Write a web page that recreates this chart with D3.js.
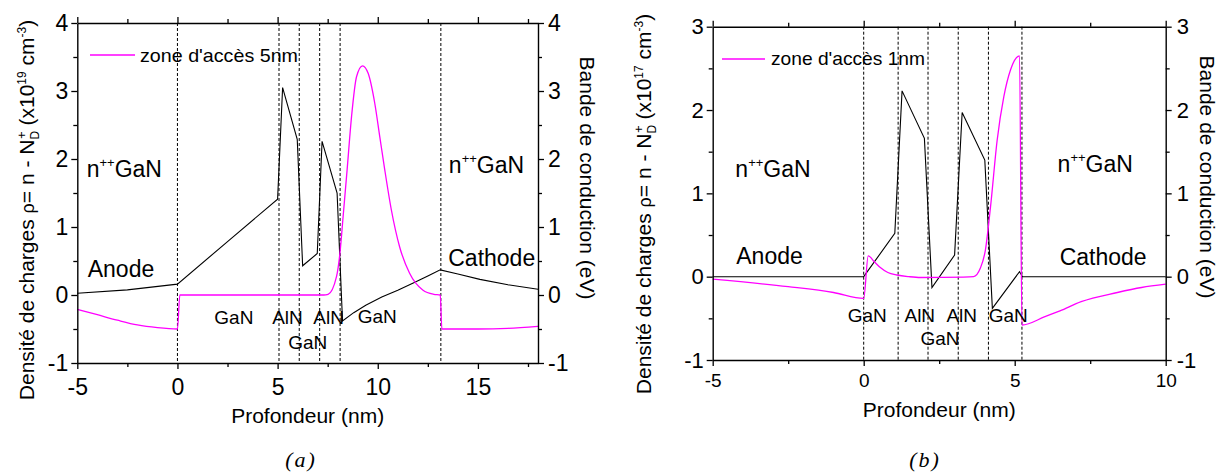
<!DOCTYPE html>
<html><head><meta charset="utf-8">
<script src="https://cdn.jsdelivr.net/npm/d3@7"></script>
<style>
body{margin:0;background:#fff}
svg{display:block}
text{font-family:"Liberation Sans",Arial,sans-serif;fill:#000}
text.cap{font-family:"Liberation Serif","Times New Roman",serif;font-style:italic}
</style>
</head><body>
<svg id="c" width="1228" height="476"></svg>
<script>
// ---------- data: panel (a) ----------
const xDomainA = [-5, 18];
const yDomainA = [-1, 4];
const xTicksA = [-5, 0, 5, 10, 15];
const xMinorA = [-2.5, 2.5, 7.5, 12.5, 17.5];
const yTicksA = [-1, 0, 1, 2, 3, 4];
const yMinorA = [-0.5, 0.5, 1.5, 2.5, 3.5];
const layersA = [0, 5.07, 6.08, 7.1, 8.12, 13.15];
const bandA = [[-5,0.025],[-2.5,0.075],[0,0.16],[2.5,0.785],[5.0,1.41],[5.25,3.05],[5.98,2.29],[6.25,0.43],[6.98,0.61],[7.22,2.26],[7.97,1.50],[8.24,-0.38],[8.8,-0.26],[9.4,-0.15],[10.2,-0.03],[11,0.07],[11.8,0.18],[12.5,0.28],[13.12,0.37],[14,0.31],[15.1,0.23],[16.5,0.15],[18,0.085]];
const chargeA = [[-5,-0.21],[-4,-0.29],[-3,-0.37],[-2,-0.44],[-1,-0.48],[0,-0.5],[0.12,0],[7.3,0],[7.52,0.01],[7.94,0.27],[8.11,0.61],[8.27,1.15],[8.47,1.84],[8.69,2.62],[8.94,3.21],[9.24,3.37],[9.52,3.26],[9.85,2.82],[10.1,2.33],[10.35,1.84],[10.68,1.25],[11.09,0.71],[11.59,0.32],[12.26,0.07],[12.8,0.01],[13.12,0],[13.2,-0.5],[15,-0.5],[16.5,-0.49],[18,-0.46]];
const legendA = "zone d'accès 5nm";
const annotA = [
  {segs:[["n"],["++","sup"],["GaN"]], x:-4.53, y:1.74, fs:23},
  {segs:[["Anode"]], x:-4.48, y:0.265, fs:23},
  {segs:[["n"],["++","sup"],["GaN"]], x:13.55, y:1.80, fs:23},
  {segs:[["Cathode"]], x:13.52, y:0.42, fs:23},
  {segs:[["GaN"]], x:1.84, y:-0.43, fs:19},
  {segs:[["AlN"]], x:4.73, y:-0.43, fs:19},
  {segs:[["AlN"]], x:6.78, y:-0.43, fs:19},
  {segs:[["GaN"]], x:9.0, y:-0.41, fs:19},
  {segs:[["GaN"]], x:5.53, y:-0.79, fs:19}
];

// ---------- data: panel (b) ----------
const xDomainB = [-5, 10];
const yDomainB = [-1, 3];
const xTicksB = [-5, 0, 5, 10];
const xMinorB = [-2.5, 2.5, 7.5];
const yTicksB = [-1, 0, 1, 2, 3];
const yMinorB = [-0.5, 0.5, 1.5, 2.5];
const layersB = [0, 1.14, 2.13, 3.13, 4.13, 5.24];
const bandB = [[-5,0],[0,0],[1.03,0.52],[1.27,2.23],[2.01,1.66],[2.26,-0.13],[3.01,0.26],[3.26,1.97],[4.01,1.40],[4.26,-0.38],[5.16,0.06],[5.26,0],[10,0]];
const chargeB = [[-5,-0.03],[-2.5,-0.12],[-1,-0.19],[0,-0.26],[0.15,0.25],[0.35,0.18],[0.55,0.11],[0.8,0.05],[1.1,0.02],[1.5,0.0],[1.88,-0.01],[3.3,-0.005],[3.64,0.0],[3.86,0.1],[4.03,0.32],[4.2,0.84],[4.42,1.64],[4.64,2.16],[4.86,2.48],[5.16,2.65],[5.24,-0.58],[6,-0.48],[6.5,-0.41],[7.2,-0.30],[8.4,-0.19],[9.2,-0.13],[10,-0.09]];
const legendB = "zone d'accès 1nm";
const annotB = [
  {segs:[["n"],["++","sup"],["GaN"]], x:-4.25, y:1.2, fs:23},
  {segs:[["Anode"]], x:-4.22, y:0.15, fs:23},
  {segs:[["n"],["++","sup"],["GaN"]], x:6.42, y:1.26, fs:23},
  {segs:[["Cathode"]], x:6.49, y:0.14, fs:23},
  {segs:[["GaN"]], x:-0.53, y:-0.54, fs:19},
  {segs:[["AlN"]], x:1.35, y:-0.54, fs:19},
  {segs:[["AlN"]], x:2.74, y:-0.54, fs:19},
  {segs:[["GaN"]], x:4.14, y:-0.54, fs:19},
  {segs:[["GaN"]], x:1.88, y:-0.82, fs:19}
];

const xTitle = "Profondeur (nm)";
const yRightTitle = "Bande de conduction (eV)";
const yLeftTitleA = [["Densité de charges ",21],["ρ",18],["= n - N",21],["D",12,0,5],["+",13,-8,-13],[" (x10",21,0,8],["19",12,0,-8],[" cm",21,0,8],["-3",12,0,-8],[")",21,0,8]];
const yLeftTitleB = [["Densité de charges ",21],["ρ",18],["= n - N",21],["D",12,0,5],["+",13,-8,-13],[" (x10",21,0,8],["17",12,0,-8],[" cm",21,0,8],["-3",12,0,-8],[")",21,0,8]];

// ---------- drawing ----------
const svg = d3.select('#c');
const MAG = '#ff00ff';

function richTspans(sel, segs) {
  segs.forEach(s => {
    const t = sel.append('tspan').text(s[0]).attr('font-size', s[1]);
    if (s[2]) t.attr('dx', s[2]);
    if (s[3]) t.attr('dy', s[3]);
  });
}

function panel(cfg) {
  const x = d3.scaleLinear().domain(cfg.xDomain).range([cfg.left, cfg.right]);
  const y = d3.scaleLinear().domain(cfg.yDomain).range([cfg.bottom, cfg.top]);
  const g = svg.append('g');

  g.selectAll('line.layer').data(cfg.layers).enter().append('line')
    .attr('x1', d => x(d)).attr('x2', d => x(d))
    .attr('y1', cfg.top).attr('y2', cfg.bottom)
    .attr('stroke', '#000').attr('stroke-width', 1).attr('stroke-dasharray', '3,2');

  g.append('path').datum(cfg.band)
    .attr('d', d3.line().x(d => x(d[0])).y(d => y(d[1])).curve(d3.curveLinear))
    .attr('fill', 'none').attr('stroke', '#000').attr('stroke-width', 1.1);
  g.append('path').datum(cfg.charge)
    .attr('d', d3.line().x(d => x(d[0])).y(d => y(d[1])).curve(d3.curveMonotoneX))
    .attr('fill', 'none').attr('stroke', MAG).attr('stroke-width', 1.3);

  const fmt = d => String(d);
  function style(sel, fs) {
    sel.attr('font-family', null).attr('font-size', null);
    sel.selectAll('path.domain').attr('stroke', '#000').attr('stroke-width', 1.4);
    sel.selectAll('.tick line').attr('stroke', '#000').attr('stroke-width', 1.3);
    sel.selectAll('.tick text').attr('font-size', fs).attr('fill', '#000');
  }
  function minor(sel) {
    sel.attr('font-family', null).attr('font-size', null);
    sel.select('path.domain').remove();
    sel.selectAll('.tick line').attr('stroke', '#000').attr('stroke-width', 1.3);
  }
  g.append('g').attr('transform', `translate(0,${cfg.bottom})`)
    .call(d3.axisBottom(x).tickValues(cfg.xTicks).tickFormat(fmt).tickSize(6).tickSizeOuter(0).tickPadding(cfg.xPad))
    .call(s => style(s, cfg.xfs));
  g.append('g').attr('transform', `translate(0,${cfg.bottom})`)
    .call(d3.axisBottom(x).tickValues(cfg.xMinor).tickFormat('').tickSize(4)).call(minor);
  g.append('g').attr('transform', `translate(0,${cfg.top})`)
    .call(d3.axisTop(x).tickValues(cfg.xTicks).tickFormat('').tickSize(6).tickSizeOuter(0))
    .call(s => style(s, cfg.xfs));
  g.append('g').attr('transform', `translate(0,${cfg.top})`)
    .call(d3.axisTop(x).tickValues(cfg.xMinor).tickFormat('').tickSize(4)).call(minor);
  g.append('g').attr('transform', `translate(${cfg.left},0)`)
    .call(d3.axisLeft(y).tickValues(cfg.yTicks).tickFormat(fmt).tickSize(6).tickSizeOuter(0).tickPadding(cfg.yPadL))
    .call(s => style(s, cfg.yfs));
  g.append('g').attr('transform', `translate(${cfg.left},0)`)
    .call(d3.axisLeft(y).tickValues(cfg.yMinor).tickFormat('').tickSize(4)).call(minor);
  g.append('g').attr('transform', `translate(${cfg.right},0)`)
    .call(d3.axisRight(y).tickValues(cfg.yTicks).tickFormat(fmt).tickSize(6).tickSizeOuter(0).tickPadding(cfg.yPadR))
    .call(s => style(s, cfg.yfs));
  g.append('g').attr('transform', `translate(${cfg.right},0)`)
    .call(d3.axisRight(y).tickValues(cfg.yMinor).tickFormat('').tickSize(4)).call(minor);

  cfg.annot.forEach(a => {
    const t = g.append('text').attr('x', x(a.x)).attr('y', y(a.y)).attr('font-size', a.fs);
    a.segs.forEach(s => {
      if (s[1] === 'sup') t.append('tspan').text(s[0]).attr('font-size', 13).attr('dy', -10);
      else if (s.length === 1 && t.selectAll('tspan').size() > 0) t.append('tspan').text(s[0]).attr('dy', 10);
      else t.append('tspan').text(s[0]);
    });
  });

  g.append('line').attr('x1', cfg.leg.x1).attr('x2', cfg.leg.x2).attr('y1', cfg.leg.y).attr('y2', cfg.leg.y)
    .attr('stroke', MAG).attr('stroke-width', 1.3);
  g.append('text').attr('x', cfg.leg.tx).attr('y', cfg.leg.ty).attr('font-size', 19)
    .attr('textLength', cfg.leg.tl).attr('lengthAdjust', 'spacingAndGlyphs').text(cfg.legend);

  g.append('text').attr('x', (cfg.left + cfg.right) / 2).attr('y', cfg.xTitleY)
    .attr('text-anchor', 'middle').attr('font-size', 20)
    .attr('textLength', 153).attr('lengthAdjust', 'spacingAndGlyphs').text(xTitle);
  const yl = g.append('text').attr('transform', `translate(${cfg.yLx},${cfg.yLy}) rotate(-90)`)
    .attr('text-anchor', 'middle');
  richTspans(yl, cfg.yLeftTitle);
  g.append('text').attr('transform', `translate(${cfg.yRx},${cfg.yRy}) rotate(90)`)
    .attr('text-anchor', 'middle').attr('font-size', 21).text(yRightTitle);

  g.append('text').attr('class', 'cap').attr('x', cfg.cap.x).attr('y', 467).attr('text-anchor', 'middle')
    .attr('font-size', 22).attr('letter-spacing', 2)
    .text(cfg.cap.t);
}

panel({
  xDomain: xDomainA, yDomain: yDomainA, xTicks: xTicksA, xMinor: xMinorA, yTicks: yTicksA, yMinor: yMinorA,
  layers: layersA, band: bandA, charge: chargeA, annot: annotA, legend: legendA,
  left: 77.3, right: 538, top: 23, bottom: 363,
  xfs: 23, yfs: 23, xPad: 10, yPadL: 3, yPadR: 4,
  leg: {x1: 90, x2: 135, y: 55, tx: 140, ty: 62, tl: 158},
  xTitleY: 423, yLeftTitle: yLeftTitleA, yLx: 34, yLy: 210, yRx: 580, yRy: 178,
  cap: {x: 301, t: '(a)'}
});
panel({
  xDomain: xDomainB, yDomain: yDomainB, xTicks: xTicksB, xMinor: xMinorB, yTicks: yTicksB, yMinor: yMinorB,
  layers: layersB, band: bandB, charge: chargeB, annot: annotB, legend: legendB,
  left: 712.7, right: 1165.7, top: 26.7, bottom: 360,
  xfs: 19, yfs: 22, xPad: 8, yPadL: 3, yPadR: 5,
  leg: {x1: 722, x2: 765, y: 59, tx: 771, ty: 65, tl: 154},
  xTitleY: 417, yLeftTitle: yLeftTitleB, yLx: 651, yLy: 204, yRx: 1200, yRy: 177,
  cap: {x: 925, t: '(b)'}
});
</script>
</body></html>
